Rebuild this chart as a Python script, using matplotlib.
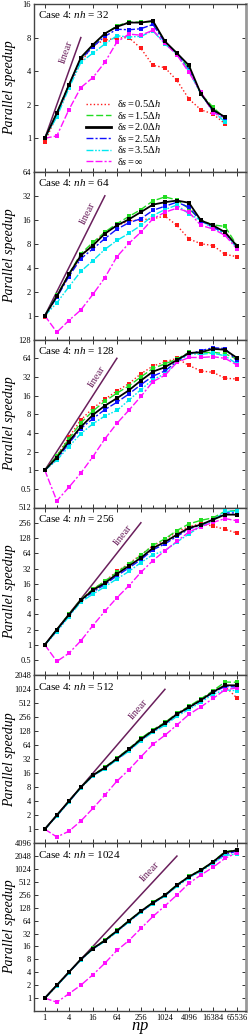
import math

import matplotlib
matplotlib.use("Agg")
import matplotlib.pyplot as plt
from matplotlib.lines import Line2D
from matplotlib.ticker import FixedLocator, NullFormatter, FixedFormatter

# number of processes (x axis)
np_procs = [1, 2, 4, 8, 16, 32, 64, 128, 256, 512, 1024, 2048, 4096,
            8192, 16384, 32768, 65536]
np_labels = ["1", "4", "16", "64", "256", "1024", "4096", "16384", "65536"]

nh_values = [32, 64, 128, 256, 512, 1024]
linear_end = [8, 32, 64, 256, 1024, 2048]

series_labels = [
    r"$\mathrm{\delta}s = 0.5\Delta h$",
    r"$\mathrm{\delta}s = 1.5\Delta h$",
    r"$\mathrm{\delta}s = 2.0\Delta h$",
    r"$\mathrm{\delta}s = 2.5\Delta h$",
    r"$\mathrm{\delta}s = 3.5\Delta h$",
    r"$\mathrm{\delta}s = \infty$",
]

# speedups, one list per delta s, for nh = 32 (up to np = 32768)
nh32_d05 = [0.93, 1.6, 2.9, 4.8, 6.8, 7.6, 7.9, 8.0, 6.4, 4.5, 4.3, 3.3, 2.25, 1.8, 1.65, 1.35]
nh32_d15 = [1.0, 1.7, 3.0, 5.2, 6.8, 8.6, 10.2, 11.0, 11.0, 11.1, 7.3, 5.8, 4.2, 2.5, 1.9, 1.5]
nh32_d20 = [1.0, 1.68, 3.0, 5.3, 6.9, 8.7, 10.0, 10.9, 10.9, 11.3, 7.4, 5.8, 4.5, 2.5, 1.8, 1.55]
nh32_d25 = [1.0, 1.65, 3.0, 5.1, 6.6, 8.2, 9.5, 9.4, 9.6, 10.5, 7.2, 5.7, 4.1, 2.5, 1.75, 1.5]
nh32_d35 = [1.0, 1.55, 2.8, 4.8, 5.8, 7.0, 8.3, 8.1, 8.2, 9.2, 7.0, 5.7, 4.0, 2.5, 1.75, 1.4]
nh32_dinf = [1.0, 1.05, 1.8, 2.85, 3.5, 4.8, 7.3, 8.6, 8.4, 9.3, 7.1, 5.6, 3.9, 2.6, 1.7, 1.55]

nh64_d05 = [0.95, 1.75, 3.2, 5.6, 8.0, 11.0, 13.5, 15.5, 16.0, 16.5, 17.8, 13.6, 9.2, 8.0, 7.6, 5.9, 5.5]
nh64_d15 = [1.0, 1.8, 3.3, 6.0, 8.3, 11.2, 14.3, 17.6, 21.5, 27.6, 31.0, 28.4, 22.0, 15.8, 13.8, 13.2, 7.6]
nh64_d20 = [1.0, 1.75, 3.3, 5.7, 7.6, 10.7, 13.6, 16.2, 20.0, 24.8, 26.6, 27.9, 26.2, 15.7, 13.6, 11.2, 7.5]
nh64_d25 = [1.0, 1.7, 3.1, 5.2, 6.9, 9.3, 12.2, 14.7, 16.5, 21.0, 23.7, 26.6, 23.0, 15.4, 13.0, 10.7, 7.4]
nh64_d35 = [1.0, 1.45, 2.3, 3.6, 4.9, 6.8, 8.8, 10.8, 13.6, 18.1, 21.5, 24.5, 19.0, 15.7, 12.4, 10.8, 7.0]
nh64_dinf = [1.0, 0.62, 0.87, 1.18, 1.85, 3.0, 5.5, 8.1, 11.2, 16.5, 19.9, 22.4, 19.9, 13.6, 12.3, 10.2, 6.9]

nh128_d05 = [1.0, 1.7, 3.4, 6.5, 10.0, 14.0, 19.0, 25.0, 36.0, 48.0, 56.0, 64.0, 49.0, 40.0, 38.0, 30.5, 29.7]
nh128_d15 = [1.0, 1.7, 3.2, 5.8, 9.0, 13.0, 17.5, 23.0, 32.0, 44.0, 52.0, 62.0, 80.0, 78.0, 80.0, 76.0, 62.0]
nh128_d20 = [1.0, 1.6, 2.9, 5.0, 7.8, 11.0, 14.5, 19.5, 28.0, 39.0, 46.0, 60.0, 78.0, 80.0, 91.0, 88.0, 65.0]
nh128_d25 = [1.0, 1.5, 2.7, 4.7, 6.8, 9.5, 12.5, 17.0, 24.0, 33.0, 40.0, 57.0, 75.0, 85.0, 95.0, 92.0, 58.0]
nh128_d35 = [1.0, 1.45, 2.4, 3.9, 5.6, 7.5, 9.2, 13.5, 20.0, 29.0, 36.0, 55.0, 76.0, 74.0, 78.0, 70.0, 52.0]
nh128_dinf = [1.0, 0.32, 0.53, 0.9, 1.65, 3.2, 5.7, 9.3, 15.5, 27.0, 34.0, 55.0, 66.0, 66.0, 68.0, 64.0, 50.0]

nh256_d05 = [1.0, 2.0, 4.0, 7.8, 12.5, 18.0, 28.0, 40.0, 60.0, 90.0, 118.0, 170.0, 215.0, 245.0, 220.0, 190.0, 160.0]
nh256_d15 = [1.0, 2.0, 4.0, 7.8, 12.5, 18.0, 27.0, 39.0, 58.0, 92.0, 123.0, 180.0, 243.0, 286.0, 320.0, 430.0, 445.0]
nh256_d20 = [1.0, 2.0, 3.9, 7.6, 12.0, 16.5, 25.0, 36.0, 52.0, 81.0, 107.0, 149.0, 202.0, 235.0, 295.0, 370.0, 370.0]
nh256_d25 = [1.0, 1.9, 3.8, 7.4, 11.0, 15.5, 23.0, 33.0, 48.0, 75.0, 98.0, 138.0, 192.0, 232.0, 295.0, 400.0, 400.0]
nh256_d35 = [1.0, 1.8, 3.6, 7.0, 10.0, 14.0, 20.0, 28.0, 42.0, 60.0, 72.0, 107.0, 154.0, 218.0, 280.0, 430.0, 430.0]
nh256_dinf = [1.0, 0.47, 0.68, 1.2, 2.4, 4.6, 8.5, 14.6, 27.0, 46.0, 72.0, 110.0, 169.0, 215.0, 260.0, 310.0, 280.0]

nh512_d05 = [1.0, 2.0, 4.0, 8.0, 14.5, 21.0, 33.0, 53.0, 88.0, 135.0, 195.0, 305.0, 430.0, 620.0, 920.0, 1200.0, 660.0]
nh512_d15 = [1.0, 2.0, 4.0, 8.0, 14.8, 21.5, 34.0, 54.0, 90.0, 138.0, 198.0, 310.0, 440.0, 640.0, 950.0, 1470.0, 1450.0]
nh512_d20 = [1.0, 2.0, 4.0, 8.0, 14.5, 21.0, 33.0, 52.0, 86.0, 132.0, 190.0, 300.0, 420.0, 600.0, 900.0, 1250.0, 1250.0]
nh512_d25 = [1.0, 1.95, 3.9, 7.9, 14.2, 20.5, 32.0, 50.0, 83.0, 128.0, 182.0, 290.0, 405.0, 580.0, 870.0, 1180.0, 1150.0]
nh512_d35 = [1.0, 1.9, 3.8, 7.8, 14.0, 20.0, 31.0, 48.0, 80.0, 122.0, 172.0, 270.0, 380.0, 540.0, 800.0, 1000.0, 950.0]
nh512_dinf = [1.0, 0.68, 0.9, 1.5, 2.8, 5.4, 10.8, 19.0, 36.0, 67.0, 105.0, 175.0, 295.0, 430.0, 650.0, 1000.0, 1100.0]

nh1024_d05 = [1.0, 2.0, 4.0, 8.0, 14.3, 22.0, 37.0, 62.0, 105.0, 167.0, 248.0, 425.0, 670.0, 950.0, 1480.0, 2300.0, 2750.0]
nh1024_d15 = [1.0, 2.0, 4.0, 8.0, 14.5, 22.5, 38.0, 64.0, 108.0, 170.0, 255.0, 440.0, 690.0, 980.0, 1520.0, 2600.0, 2850.0]
nh1024_d20 = [1.0, 2.0, 4.0, 8.0, 14.3, 22.0, 37.0, 63.0, 106.0, 168.0, 250.0, 430.0, 680.0, 960.0, 1500.0, 2500.0, 2800.0]
nh1024_d25 = [1.0, 1.95, 3.95, 7.9, 14.0, 21.5, 36.0, 61.0, 103.0, 163.0, 243.0, 415.0, 660.0, 930.0, 1450.0, 2200.0, 2700.0]
nh1024_d35 = [1.0, 1.9, 3.9, 7.8, 13.8, 21.0, 35.0, 60.0, 100.0, 160.0, 240.0, 400.0, 640.0, 900.0, 1400.0, 2100.0, 2300.0]
nh1024_dinf = [1.0, 0.8, 1.26, 2.0, 3.5, 6.5, 12.9, 22.0, 42.0, 80.0, 141.0, 254.0, 475.0, 743.0, 1120.0, 1810.0, 2450.0]


def main() -> int:
    """Draws the six stacked speedup panels and saves out.png"""

    plt.rcParams["font.family"] = "serif"
    plt.rcParams["font.serif"] = ["Liberation Serif", "DejaVu Serif"]
    plt.rcParams["mathtext.fontset"] = "custom"
    plt.rcParams["mathtext.rm"] = "Liberation Serif"
    plt.rcParams["mathtext.it"] = "Liberation Serif:italic"
    plt.rcParams["mathtext.bf"] = "Liberation Serif:bold"

    panels = [
        [nh32_d05, nh32_d15, nh32_d20, nh32_d25, nh32_d35, nh32_dinf],
        [nh64_d05, nh64_d15, nh64_d20, nh64_d25, nh64_d35, nh64_dinf],
        [nh128_d05, nh128_d15, nh128_d20, nh128_d25, nh128_d35, nh128_dinf],
        [nh256_d05, nh256_d15, nh256_d20, nh256_d25, nh256_d35, nh256_dinf],
        [nh512_d05, nh512_d15, nh512_d20, nh512_d25, nh512_d35, nh512_dinf],
        [nh1024_d05, nh1024_d15, nh1024_d20, nh1024_d25, nh1024_d35, nh1024_dinf],
    ]

    # styles: colour, dash pattern, width
    colors = ["#ff1a1a", "#22dd22", "black", "#1010ff", "#00e8f0", "#ff10ff"]
    dashes = [(0, (1, 1.6)), (0, (5, 2)), "-", (0, (5, 1.5, 1.5, 1.5)),
              (0, (5, 1.2, 1.2, 1.2, 1.2, 1.2)), (0, (5, 1.5, 5, 1.5, 1.5, 1.5))]
    widths = [1.0, 1.0, 1.3, 1.0, 1.0, 1.0]
    lin_color = "#6a1f5c"

    ylims = [(0.5, 16), (0.5, 64), (0.25, 128), (0.25, 512), (0.5, 2048), (0.5, 4096)]
    lin_text_pos = [(3.5, 5.9), (12, 19.5), (20, 32), (90, 143), (225, 375), (440, 885)]

    W, H = 249, 1036
    fig = plt.figure(figsize=(W / 100, H / 100), dpi=100)
    top_px, bot_px = 4, 1011
    ph = (bot_px - top_px) / 6
    left, right = 34 / W, 246 / W

    for i, data in enumerate(panels):
        y_top = top_px + i * ph
        ax = fig.add_axes([left, 1 - (y_top + ph) / H, right - left, ph / H])
        ax.set_xscale("log", base=2)
        ax.set_yscale("log", base=2)
        ax.set_xlim(2 ** -0.9, 2 ** 16.75)
        ax.set_ylim(*ylims[i])

        for j, ys in enumerate(data):
            ax.plot(np_procs[:len(ys)], ys, color=colors[j], linestyle=dashes[j],
                    linewidth=widths[j], marker="s", markersize=2.2,
                    markeredgewidth=0, zorder=3 if j != 2 else 4)

        # linear speedup reference
        ax.plot([1, linear_end[i]], [1, linear_end[i]], color=lin_color,
                linewidth=1.1, zorder=2)
        p1 = ax.transData.transform((1, 1))
        p2 = ax.transData.transform((linear_end[i], linear_end[i]))
        ang = math.degrees(math.atan2(p2[1] - p1[1], p2[0] - p1[0]))
        ax.text(*lin_text_pos[i], "linear", color=lin_color, fontsize=7.5,
                rotation=ang, ha="center", va="center", rotation_mode="anchor")

        ax.text(0.02, 0.935, "Case 4: $nh$ = %d" % nh_values[i],
                transform=ax.transAxes, fontsize=8, ha="left", va="center")

        # ticks
        lo, hi = ylims[i]
        yt = [v for v in [1, 2, 4, 8, 16, 32, 64, 128, 256, 512, 1024, 2048, 4096]
              if v <= hi]
        if lo < 0.5:
            yt = [0.5] + yt
        ax.yaxis.set_major_locator(FixedLocator(yt))
        ax.yaxis.set_major_formatter(FixedFormatter([("%g" % v) for v in yt]))
        ax.yaxis.set_minor_locator(FixedLocator([]))
        ax.xaxis.set_major_locator(FixedLocator([int(s) for s in np_labels]))
        ax.xaxis.set_minor_locator(FixedLocator(np_procs))
        if i == 5:
            ax.xaxis.set_major_formatter(FixedFormatter(np_labels))
            ax.set_xlabel("$np$", fontsize=12, labelpad=-1)
        else:
            ax.xaxis.set_major_formatter(NullFormatter())
        ax.xaxis.set_minor_formatter(NullFormatter())
        ax.tick_params(which="both", direction="in", top=True, right=True,
                       labelsize=6, pad=2, width=0.7, color="#333333")
        ax.tick_params(which="major", length=3)
        ax.tick_params(which="minor", length=2.5, top=False)

        for side, sp in ax.spines.items():
            sp.set_color("#444444")
            sp.set_linewidth(1.0)
        ax.spines["right"].set_color("#999999")
        ax.spines["right"].set_linewidth(2.0)

        ax.set_ylabel("Parallel speedup", style="italic", fontsize=10)
        ax.yaxis.set_label_coords(-0.085, 0.5)

        if i == 0:
            handles = [Line2D([], [], color=colors[j], linestyle=dashes[j],
                              linewidth=widths[j] if j != 2 else 2.0)
                       for j in range(6)]
            ax.legend(handles, series_labels, loc="lower left",
                      bbox_to_anchor=(0.245, 0.03), frameon=False, fontsize=7.5,
                      handlelength=2.4, handletextpad=0.6, labelspacing=0.05,
                      borderpad=0, borderaxespad=0)

    fig.savefig("out.png", dpi=100)
    return 0


if __name__ == "__main__":
    main()
